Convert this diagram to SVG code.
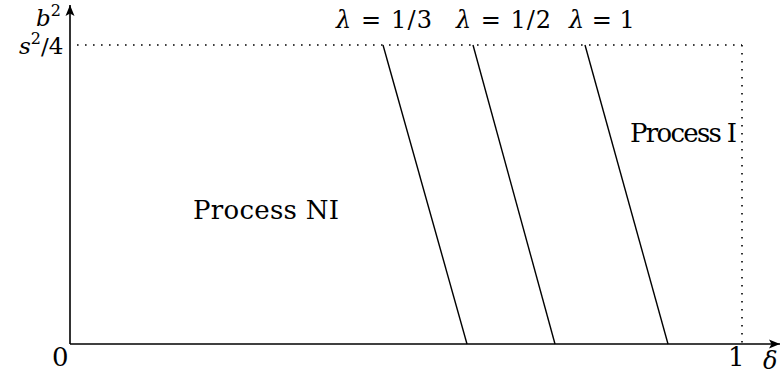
<svg xmlns="http://www.w3.org/2000/svg" width="781" height="376" viewBox="0 0 781 376">
<style>
.ax{stroke:#000;stroke-width:1.6;fill:none}
.ln{stroke:#000;stroke-width:1.4;fill:none}
.dot{stroke:#000;stroke-width:1.6;fill:none;stroke-dasharray:1.6 6.4}
</style>
<defs>
<marker id="arr" markerWidth="12" markerHeight="10" refX="11" refY="5" orient="auto" markerUnits="userSpaceOnUse">
<path d="M0,0.5 L11,5 L0,9.5 L2.5,5 Z" fill="#000"/>
</marker>
</defs>
<rect width="781" height="376" fill="#fff"/>
<g id="connectors">
<line class="ax" x1="70" y1="344" x2="70" y2="5" marker-end="url(#arr)"/>
<line class="ax" x1="70" y1="344" x2="780" y2="344" marker-end="url(#arr)"/>
<line class="dot" x1="77" y1="45" x2="742" y2="45"/>
<line class="dot" x1="742" y1="45" x2="742" y2="344"/>
<line class="ln" x1="383" y1="45" x2="467" y2="344"/>
<line class="ln" x1="473" y1="45" x2="555" y2="344"/>
<line class="ln" x1="585" y1="45" x2="668" y2="344"/>
</g>
<g id="labels" font-family="'DejaVu Serif', 'Liberation Serif', serif" font-size="26" fill="#000">
<text x="36" y="26" font-size="23"><tspan font-style="italic">b</tspan><tspan font-size="16" dy="-10">2</tspan></text>
<text x="19" y="54" font-size="23"><tspan font-style="italic">s</tspan><tspan font-size="16" dy="-10">2</tspan><tspan dy="10">/4</tspan></text>
<text x="52" y="366">0</text>
<text x="728" y="366">1</text>
<text x="763" y="369" font-style="italic" font-size="24">δ</text>
<text x="336" y="28" font-size="24" textLength="96"><tspan font-style="italic">λ</tspan> = 1/3</text>
<text x="456" y="28" font-size="24" textLength="95"><tspan font-style="italic">λ</tspan> = 1/2</text>
<text x="569" y="28" font-size="24"><tspan font-style="italic">λ</tspan> = 1</text>
<text x="193" y="219" textLength="146">Process NI</text>
<text x="630" y="142" textLength="107">Process I</text>
</g>
</svg>
